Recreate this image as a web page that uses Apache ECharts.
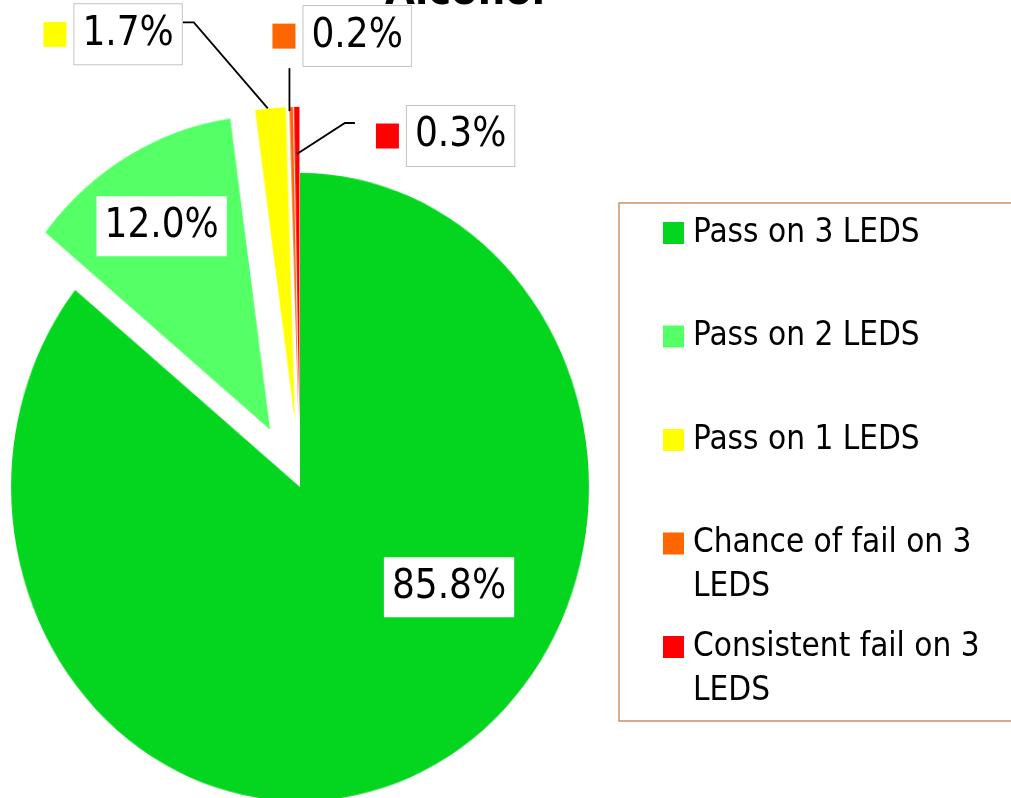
<!DOCTYPE html>
<html>
<head>
<meta charset="utf-8">
<script src="https://cdn.jsdelivr.net/npm/echarts@6/dist/echarts.min.js"></script>
<style>
  html, body { margin: 0; padding: 0; background: #fff; }
  .layer { position: absolute; left: 0; top: 0; width: 1011px; height: 798px; }
  /* the original pie is slightly taller than wide */
  #pie { transform: scale(0.963, 1.047); transform-origin: 300px 487px; }
</style>
</head>
<body>
<div id="pie" class="layer"></div>
<div id="chart" class="layer"></div>
<script>
const categories = ['Pass on 3 LEDS', 'Pass on 2 LEDS', 'Pass on 1 LEDS', 'Chance of fail on 3 LEDS', 'Consistent fail on 3 LEDS'];
const shares = [85.8, 12.0, 1.7, 0.2, 0.3];
const colors = ['#04d61f', '#55ff66', '#ffff00', '#ff6600', '#ff0000'];
const exploded = [false, true, true, true, true];

const FONT = "'DejaVu Sans Condensed', 'DejaVu Sans', sans-serif";

// value in a white frame; the small slices also carry a colour key in front
function sliceLabel(i) {
    const outside = i >= 2;
    return {
        show: true,
        position: outside ? 'outside' : 'inside',
        formatter: p => (outside ? '{key|}{gap|}' : '') + '{box|' + p.value.toFixed(1) + '%}',
        rich: {
            key: { width: 23, height: 25, backgroundColor: colors[i] },
            gap: { width: 8 },
            box: {
                fontFamily: FONT, fontSize: 40, color: '#000',
                backgroundColor: '#fff', borderColor: '#c4c4c4', borderWidth: outside ? 1 : 0,
                padding: [10, 8]
            }
        }
    };
}

// shifts for the two labels drawn inside the pie
const insideShift = [[80, -44], [-27, -64]];

// move a label so that its anchor point lands on (x, y)
function placeAt(rect, x, y, align, vAlign) {
    const left = align === 'right' ? x - rect.width : x;
    const top = vAlign === 'bottom' ? y - rect.height : (vAlign === 'middle' ? y - rect.height / 2 : y);
    return { dx: left - rect.x, dy: top - rect.y };
}

function layoutLabel(p) {
    const i = p.dataIndex;
    if (i < 2) {
        return { dx: insideShift[i][0], dy: insideShift[i][1] };
    }
    const r = p.labelRect;
    const p0 = p.labelLinePoints[0];
    let out;
    if (i === 2) {
        const p1 = [p0[0] - 74, p0[1] - 86];
        const p2 = [p1[0] - 11, p1[1]];
        out = placeAt(r, p2[0], p2[1] + 12, 'right', 'middle');
        out.labelLinePoints = [p0, p1, p2];
    } else if (i === 3) {
        const p1 = [p0[0] - 1, p0[1] - 39];
        out = placeAt(r, p1[0] - 17, p1[1] - 1, 'left', 'bottom');
        out.labelLinePoints = [[p0[0] - 1, p0[1] + 4], p1, p1];
    } else {
        const s = [p0[0] + 0.5, p0[1] + 47];
        const p1 = [s[0] + 48, s[1] - 31];
        const p2 = [p1[0] + 10, p1[1]];
        out = placeAt(r, p2[0] + 21, p2[1] + 13, 'left', 'middle');
        out.labelLinePoints = [s, p1, p2];
    }
    return out;
}

function pieSeries(radius, offset, withLabels) {
    return {
        type: 'pie',
        center: [300, 487],
        radius: [0, radius],
        startAngle: 90,
        clockwise: true,
        selectedMode: 'multiple',
        selectedOffset: offset,
        avoidLabelOverlap: false,
        emphasis: { disabled: true },
        labelLine: { lineStyle: { color: '#000', width: 1.8 } },
        labelLayout: withLabels ? layoutLabel : null,
        data: categories.map((name, i) => ({
            name: name,
            value: shares[i],
            selected: exploded[i],
            itemStyle: { color: withLabels ? 'rgba(0,0,0,0)' : colors[i] },
            label: withLabels ? sliceLabel(i) : { show: false },
            labelLine: { show: withLabels && i >= 2 }
        }))
    };
}

const legendText = {
    fontFamily: FONT, fontSize: 33, lineHeight: 44, color: '#000', padding: [0, 0, 0, 4]
};

function legendBlock(from, to, top, twoLines) {
    return {
        data: categories.slice(from, to).map((name, k) => ({
            name: name, itemStyle: { color: colors[from + k] }
        })),
        orient: 'vertical',
        left: 663,
        top: top,
        padding: 0,
        itemWidth: 21,
        itemHeight: 22,
        itemGap: 59.5,
        icon: 'rect',
        selectedMode: false,
        textStyle: legendText,
        formatter: twoLines ? (n => '\n' + n.replace(/ LEDS$/, '\nLEDS')) : '{name}'
    };
}

// bottom layer: the coloured slices only
const pieChart = echarts.init(document.getElementById('pie'));
pieChart.setOption({
    animation: false,
    series: [pieSeries(300, 63, false)]
});

// top layer: title, value labels, leader lines, legend
const chart = echarts.init(document.getElementById('chart'));
chart.setOption({
    animation: false,
    backgroundColor: 'transparent',
    title: {
        text: 'Alcohol',
        left: 385,
        top: -29,
        padding: 0,
        textStyle: { fontFamily: FONT, fontSize: 43, fontWeight: 'bold', color: '#000', lineHeight: 43 }
    },
    legend: [
        legendBlock(0, 3, 211, false),
        legendBlock(3, 4, 477.5, true),
        legendBlock(4, 5, 581, true)
    ],
    graphic: [{
        type: 'rect',
        silent: true,
        shape: { x: 619, y: 203, width: 420, height: 518 },
        style: { fill: 'none', stroke: '#c8916a', lineWidth: 1.5 }
    }],
    series: [pieSeries(314, 66, true)]
});
</script>
</body>
</html>
